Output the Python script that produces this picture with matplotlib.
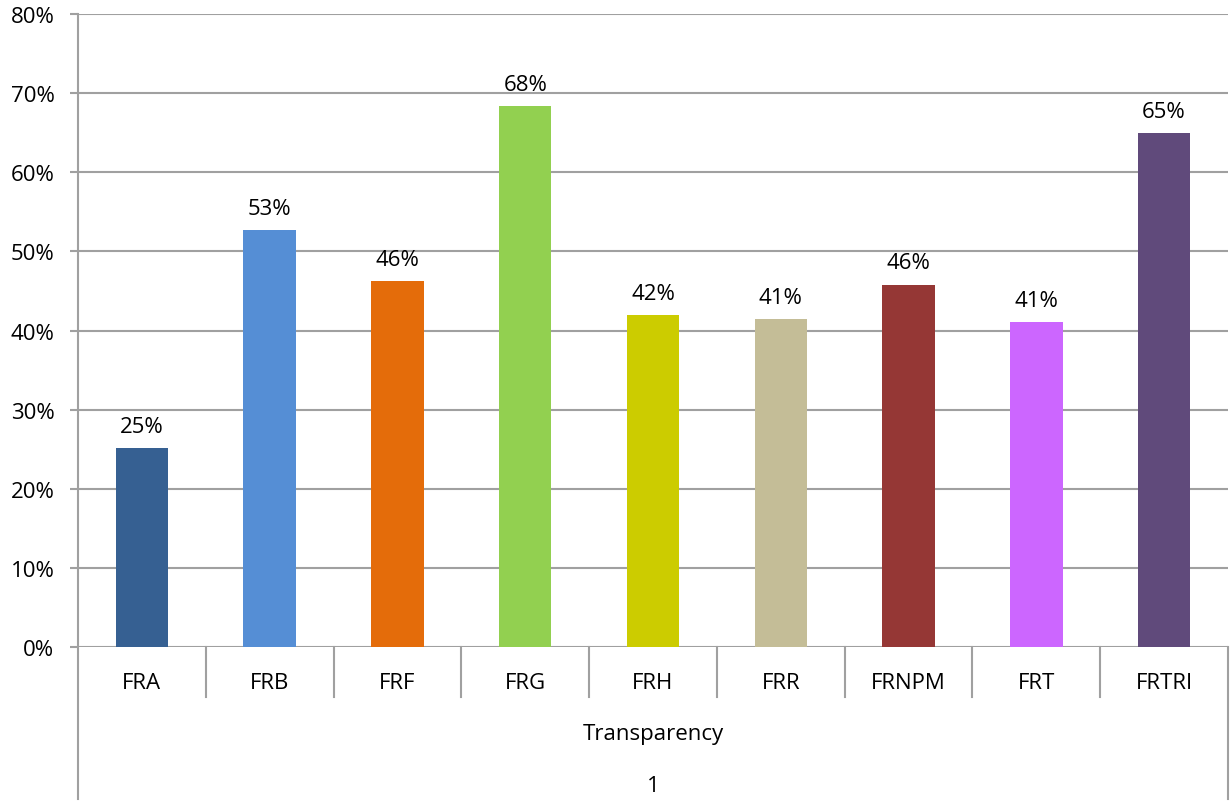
import matplotlib
matplotlib.use("Agg")
import matplotlib.pyplot as plt
import matplotlib.transforms as mtransforms

categories = ["FRA", "FRB", "FRF", "FRG", "FRH", "FRR", "FRNPM", "FRT", "FRTRI"]
values = [25.1, 52.7, 46.3, 68.4, 42.0, 41.4, 45.8, 41.1, 65.0]
labels = ["25%", "53%", "46%", "68%", "42%", "41%", "46%", "41%", "65%"]
colors = ["#366092", "#558ED5", "#E46C0A", "#92D050", "#CCCC00",
          "#C4BD97", "#953735", "#CC66FF", "#604A7B"]
group_label = "Transparency"
level2_label = "1"
yticks = list(range(0, 81, 10))

plt.rcParams['font.family'] = ['Open Sans', 'DejaVu Sans']
line_col = "#A0A0A0"
fs = 16

fig = plt.figure(figsize=(12.31, 8.04), dpi=100)
ax = fig.add_axes([78 / 1231, (804 - 648) / 804, (1228 - 78) / 1231, (648 - 15) / 804])

n = len(categories)
xs = [i + 0.5 for i in range(n)]
ax.bar(xs, values, width=0.41, color=colors, zorder=3)
for x, v, t in zip(xs, values, labels):
    ax.annotate(t, (x, v), xytext=(0, 8), textcoords="offset points",
                ha="center", va="bottom", fontsize=fs, color="#000000")

ax.set_xlim(0, n)
ax.set_ylim(0, 80)
ax.set_yticks(yticks)
ax.set_yticklabels([f"{t}%" for t in yticks], fontsize=fs)
ax.tick_params(axis="y", length=6, width=1.5, color=line_col, pad=11)
ax.set_xticks([])
ax.grid(axis="y", color=line_col, linewidth=1.5, zorder=0)

for s in ["top", "right", "bottom", "left"]:
    ax.spines[s].set_visible(False)

ah = 633.0
trans = mtransforms.blended_transform_factory(ax.transData, ax.transAxes)
# left axis line running down through the category rows
ax.plot([0, 0], [1, -152 / ah], transform=trans, color=line_col, lw=1.5, clip_on=False, zorder=4)
# right border of group boxes
ax.plot([n, n], [0, -152 / ah], transform=trans, color=line_col, lw=1.5, clip_on=False, zorder=4)
# separators between categories
for i in range(1, n):
    ax.plot([i, i], [0, -50 / ah], transform=trans, color=line_col, lw=1.5, clip_on=False)

for x, c in zip(xs, categories):
    ax.text(x, -36 / ah, c, transform=trans, ha="center", va="center", fontsize=fs)
ax.text(n / 2, -87 / ah, group_label, transform=trans, ha="center", va="center", fontsize=fs)
ax.text(n / 2, -139 / ah, level2_label, transform=trans, ha="center", va="center", fontsize=fs)

fig.savefig("out.png", dpi=100)
